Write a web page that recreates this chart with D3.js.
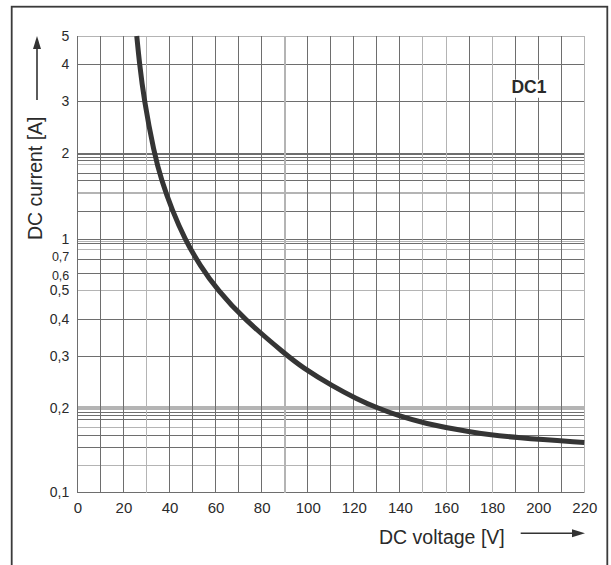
<!DOCTYPE html>
<html>
<head>
<meta charset="utf-8">
<script src="https://cdn.jsdelivr.net/npm/d3@7"></script>
<style>
  html, body { margin: 0; padding: 0; background: #fff; }
  svg { display: block; }
  text { font-family: "Liberation Sans", Arial, sans-serif; fill: #2a2a2a; }
</style>
</head>
<body>
<svg id="chart" width="611" height="565"></svg>
<script>
// Breaking capacity curve DC1: DC voltage [V] vs DC current [A]
const voltage = [25.8, 26.9, 28.9, 33.3, 36.5, 41.1, 46.7, 53.2, 61.0, 71.9,
                 90.6, 97.5, 111, 121.4, 130, 140, 150, 170.4, 190.8, 220];
const current = [5, 4.08, 3.05, 2, 1.61, 1.265, 1.0, 0.655, 0.5, 0.403,
                 0.303, 0.275, 0.2365, 0.2145, 0.2003, 0.1869, 0.1768, 0.1637, 0.1564, 0.1507];

const xTicks = [0, 20, 40, 60, 80, 100, 120, 140, 160, 180, 200, 220];
const xGrid = d3.range(0, 221, 10);
const yTicks = [0.1, 0.2, 0.3, 0.4, 0.5, 0.6, 0.7, 1, 2, 3, 4, 5];
// fine grid steps inside the 0.1–0.2 and 1–2 bands (multiples of the band's base)
const bandSteps = [1.25, 1.45, 1.6, 1.7, 1.82, 1.88, 1.93, 1.97];
const subGrid = [0.84, 0.92, 0.96];

// segmented logarithmic current axis
const yBreaks = [0.1, 0.2, 0.5, 0.7, 1, 2, 5];
const yBreakFrac = [0, 0.1851, 0.4425, 0.5108, 0.5547, 0.7437, 1];

const svg = d3.select("#chart");
const plot = { left: 77.3, right: 584.3, top: 36, bottom: 492.5 };
const H = plot.bottom - plot.top;

const x = d3.scaleLinear().domain([0, 220]).range([plot.left, plot.right]);
const y = d3.scaleLog().domain(yBreaks).range(yBreakFrac.map(f => plot.bottom - f * H));

// outer frame
svg.append("rect")
  .attr("x", 11.7).attr("y", 6.7)
  .attr("width", 595.6).attr("height", 620)
  .attr("fill", "none").attr("stroke", "#3a3a3a").attr("stroke-width", 1.8);

const grid = svg.append("g").attr("shape-rendering", "crispEdges");
const dark = "#6e6e6e", light = "#b4b4b4";
const lightV = new Set([30, 90, 150, 160, 180, 220]);

// horizontal grid lines
const hLines = [];
yTicks.forEach(v => hLines.push({ v, c: (v === 0.5 || v === 5) ? light : dark, w: 1 }));
bandSteps.forEach((m, i) => {
  const c = (i === 0 || i === 3) ? light : dark;
  hLines.push({ v: 0.1 * m, c, w: 1 });
  hLines.push({ v: 1 * m, c: (i === 1 || i === 4) ? light : dark, w: i === 1 ? 2 : 1 });
});
hLines.push({ v: 1.99, c: dark, w: 1 });
subGrid.forEach((v, i) => hLines.push({ v, c: i === 1 ? dark : light, w: 1 }));

grid.selectAll("line.h").data(hLines).join("line")
  .attr("class", "h")
  .attr("x1", plot.left).attr("x2", plot.right)
  .attr("y1", d => y(d.v)).attr("y2", d => y(d.v))
  .attr("stroke", d => d.c).attr("stroke-width", d => d.w);

// light band at 0.2 A
grid.append("line")
  .attr("x1", plot.left).attr("x2", plot.right)
  .attr("y1", y(0.2)).attr("y2", y(0.2))
  .attr("stroke", light).attr("stroke-width", 4);

// vertical grid lines
grid.selectAll("line.v").data(xGrid).join("line")
  .attr("class", "v")
  .attr("x1", d => x(d)).attr("x2", d => x(d))
  .attr("y1", plot.top).attr("y2", plot.bottom)
  .attr("stroke", d => lightV.has(d) ? light : dark)
  .attr("stroke-width", d => d === 90 ? 2 : 1);

// series label with white backing
const tag = svg.append("g");
tag.append("rect")
  .attr("x", x(187)).attr("y", y(3.55))
  .attr("width", 44).attr("height", 18).attr("fill", "#fff");
tag.append("text")
  .attr("x", x(196)).attr("y", y(3.35))
  .attr("text-anchor", "middle").attr("dominant-baseline", "central")
  .attr("font-size", 17.5).attr("font-weight", "bold")
  .text("DC1");

// curve
const pts = voltage.map((v, i) => [v, current[i]]);
svg.append("path")
  .datum(pts)
  .attr("fill", "none")
  .attr("stroke", "#353535")
  .attr("stroke-width", 5)
  .attr("d", d3.line().x(d => x(d[0])).y(d => y(d[1])).curve(d3.curveBasis));

// axes (labels only)
const fmt = d => String(d).replace(".", ",");
const ax = svg.append("g").attr("transform", `translate(0,${plot.bottom})`)
  .call(d3.axisBottom(x).tickValues(xTicks).tickSize(0).tickPadding(9.5));
const ay = svg.append("g").attr("transform", `translate(${plot.left},0)`)
  .call(d3.axisLeft(y).tickValues(yTicks).tickFormat(fmt).tickSize(0).tickPadding(8));
[ax, ay].forEach(g => {
  g.select(".domain").remove();
  g.selectAll("text").attr("fill", "#2a2a2a")
    .attr("font-family", "Liberation Sans, Arial, sans-serif");
});
ax.selectAll("text").attr("font-size", 15);
ay.selectAll("text").attr("font-size", 14);
// the 0,6 and 0,7 labels sit close together: tighten them slightly
ay.selectAll(".tick").filter(d => d === 0.6 || d === 0.7).select("text")
  .attr("font-size", 12.5)
  .attr("dy", d => d === 0.7 ? "0.12em" : "0.5em");

// axis titles with arrows
svg.append("text")
  .attr("x", 379).attr("y", 544)
  .attr("font-size", 19.5)
  .text("DC voltage [V]");
svg.append("text")
  .attr("transform", "translate(41.7,240) rotate(-90)")
  .attr("font-size", 19.5)
  .text("DC current [A]");

const arrowCol = "#333";
svg.append("line").attr("x1", 520.7).attr("x2", 575).attr("y1", 533.3).attr("y2", 533.3)
  .attr("stroke", arrowCol).attr("stroke-width", 1.6);
svg.append("path").attr("d", "M585,533.3 L572,529.3 L572,537.3 Z").attr("fill", arrowCol);
svg.append("line").attr("x1", 37).attr("x2", 37).attr("y1", 100).attr("y2", 46)
  .attr("stroke", arrowCol).attr("stroke-width", 1.6);
svg.append("path").attr("d", "M37,36 L33,49 L41,49 Z").attr("fill", arrowCol);
</script>
</body>
</html>
